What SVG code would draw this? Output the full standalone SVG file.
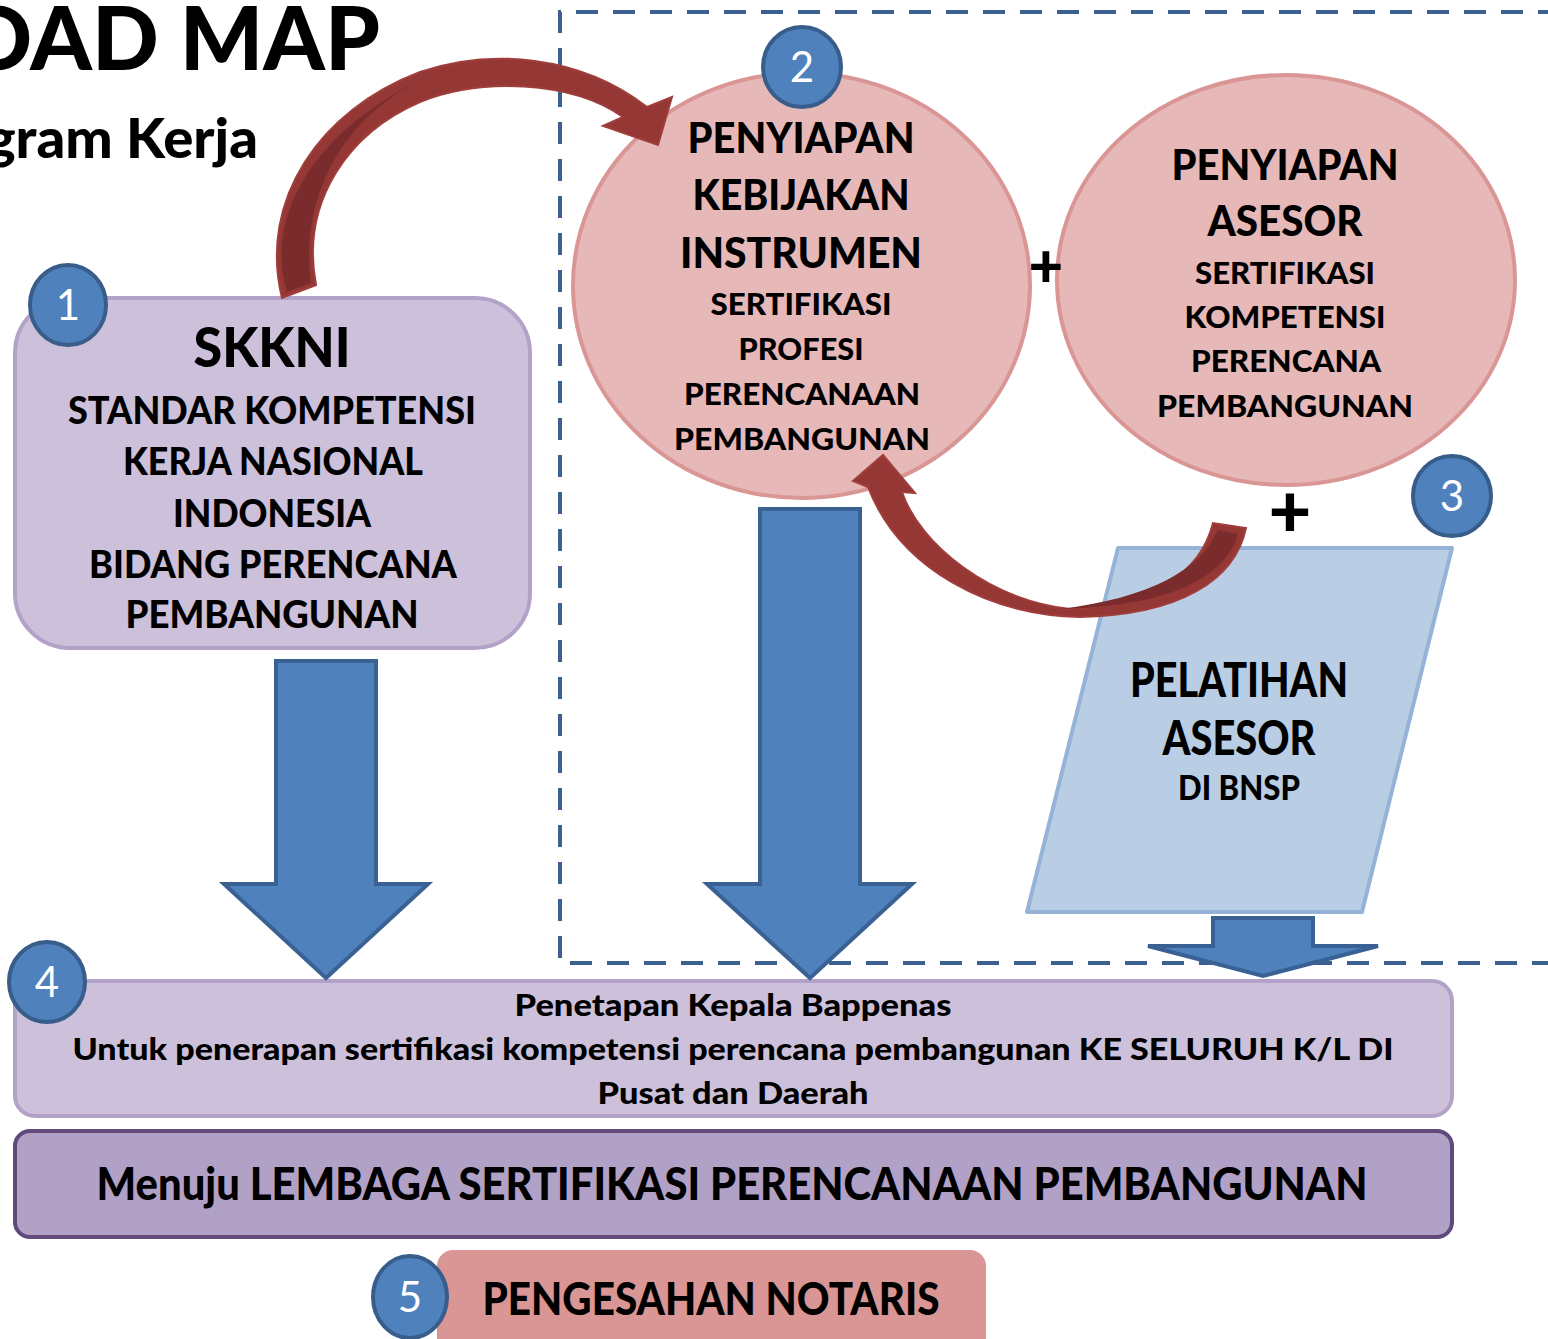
<svg xmlns="http://www.w3.org/2000/svg" width="1548" height="1339" viewBox="0 0 1548 1339">
<defs>
<style>
.t{font-family:Lato,"Open Sans","Liberation Sans",sans-serif;font-weight:900;fill:#000;text-anchor:middle}
.e{text-anchor:end}
.n{font-family:Lato,"Open Sans","Liberation Sans",sans-serif;font-weight:normal;fill:#fff;text-anchor:middle;font-size:42px}
.badge{fill:#4F81BD;stroke:#385D8A;stroke-width:4}
.blue{fill:#4F81BD;stroke:#3A6194;stroke-width:4;stroke-linejoin:miter}
.pink{fill:#E6B9B8;stroke:#D99694;stroke-width:4}
.lilac{fill:#CCC0DA;stroke:#B3A2C7;stroke-width:4}
.red{fill:#953735;stroke:#A03E3C;stroke-width:2}
.redDark{fill:#7A2B2B}
</style>
</defs>
<rect width="1548" height="1339" fill="#fff"/>

<g id="title">
<text class="t e" x="380" y="70" font-size="88" textLength="475" lengthAdjust="spacingAndGlyphs">ROAD MAP</text>
<text class="t e" x="258" y="158" font-size="56" textLength="360" lengthAdjust="spacingAndGlyphs">Program Kerja</text>
</g>

<g id="dashed-frame">
<path d="M1560,12 H560 V963 H1560" fill="none" stroke="#3C6090" stroke-width="4" stroke-dasharray="22 15"/>
</g>

<g id="node-skkni">
<rect class="lilac" x="15" y="298" width="515" height="350" rx="55"/>
<text class="t" x="272" y="367" font-size="56" textLength="157" lengthAdjust="spacingAndGlyphs">SKKNI</text>
<text class="t" x="272" y="424" font-size="38" textLength="408" lengthAdjust="spacingAndGlyphs">STANDAR KOMPETENSI</text>
<text class="t" x="273" y="475" font-size="38" textLength="300" lengthAdjust="spacingAndGlyphs">KERJA NASIONAL</text>
<text class="t" x="272" y="527" font-size="38" textLength="198" lengthAdjust="spacingAndGlyphs">INDONESIA</text>
<text class="t" x="273" y="578" font-size="38" textLength="368" lengthAdjust="spacingAndGlyphs">BIDANG PERENCANA</text>
<text class="t" x="272" y="628" font-size="38" textLength="293" lengthAdjust="spacingAndGlyphs">PEMBANGUNAN</text>
</g>

<g id="node-kebijakan">
<ellipse class="pink" cx="801.5" cy="285.5" rx="228.5" ry="212.5"/>
<text class="t" x="801" y="153" font-size="42" textLength="227" lengthAdjust="spacingAndGlyphs">PENYIAPAN</text>
<text class="t" x="801" y="210" font-size="42" textLength="217" lengthAdjust="spacingAndGlyphs">KEBIJAKAN</text>
<text class="t" x="801" y="268" font-size="42" textLength="242" lengthAdjust="spacingAndGlyphs">INSTRUMEN</text>
<text class="t" x="801" y="315" font-size="31" textLength="181" lengthAdjust="spacingAndGlyphs">SERTIFIKASI</text>
<text class="t" x="801" y="360" font-size="31" textLength="125" lengthAdjust="spacingAndGlyphs">PROFESI</text>
<text class="t" x="802" y="405" font-size="31" textLength="236" lengthAdjust="spacingAndGlyphs">PERENCANAAN</text>
<text class="t" x="802" y="450" font-size="31" textLength="256" lengthAdjust="spacingAndGlyphs">PEMBANGUNAN</text>
</g>

<g id="node-asesor">
<ellipse class="pink" cx="1286" cy="280" rx="229" ry="205"/>
<text class="t" x="1285" y="180" font-size="42" textLength="227" lengthAdjust="spacingAndGlyphs">PENYIAPAN</text>
<text class="t" x="1285" y="236" font-size="42" textLength="155" lengthAdjust="spacingAndGlyphs">ASESOR</text>
<text class="t" x="1285" y="284" font-size="31" textLength="180" lengthAdjust="spacingAndGlyphs">SERTIFIKASI</text>
<text class="t" x="1285" y="328" font-size="31" textLength="201" lengthAdjust="spacingAndGlyphs">KOMPETENSI</text>
<text class="t" x="1286" y="372" font-size="31" textLength="190" lengthAdjust="spacingAndGlyphs">PERENCANA</text>
<text class="t" x="1285" y="417" font-size="31" textLength="256" lengthAdjust="spacingAndGlyphs">PEMBANGUNAN</text>
</g>

<g id="plus-signs">
<text class="t" x="1046" y="287" font-size="60">+</text>
<text class="t" x="1290" y="537" font-size="74">+</text>
</g>

<g id="node-pelatihan">
<polygon points="1118,548 1452,548 1362,912 1027,912" fill="#B9CDE5" stroke="#95B3D7" stroke-width="4" stroke-linejoin="round"/>
<text class="t" x="1239" y="697" font-size="47" textLength="218" lengthAdjust="spacingAndGlyphs">PELATIHAN</text>
<text class="t" x="1239" y="755" font-size="47" textLength="153" lengthAdjust="spacingAndGlyphs">ASESOR</text>
<text class="t" x="1239" y="800" font-size="34" textLength="122" lengthAdjust="spacingAndGlyphs">DI BNSP</text>
</g>

<g id="node-penetapan">
<rect class="lilac" x="15" y="981" width="1437" height="135" rx="20"/>
<text class="t" x="733" y="1016" font-size="31" textLength="437" lengthAdjust="spacingAndGlyphs">Penetapan Kepala Bappenas</text>
<text class="t" x="733" y="1060" font-size="31" textLength="1321" lengthAdjust="spacingAndGlyphs">Untuk penerapan sertifikasi kompetensi perencana pembangunan KE SELURUH K/L DI</text>
<text class="t" x="733" y="1104" font-size="31" textLength="271" lengthAdjust="spacingAndGlyphs">Pusat dan Daerah</text>
</g>

<g id="node-menuju">
<rect x="15" y="1131" width="1437" height="106" rx="15" fill="#B2A1C7" stroke="#604A7B" stroke-width="4"/>
<text class="t" x="732" y="1200" font-size="45" textLength="1271" lengthAdjust="spacingAndGlyphs">Menuju LEMBAGA SERTIFIKASI PERENCANAAN PEMBANGUNAN</text>
</g>

<g id="node-notaris">
<rect x="437" y="1250" width="549" height="110" rx="16" fill="#D99694"/>
<text class="t" x="711" y="1315" font-size="46" textLength="457" lengthAdjust="spacingAndGlyphs">PENGESAHAN NOTARIS</text>
</g>

<g id="connectors">
<path class="blue" d="M276,661 H376 V884 H428 L326,978 L224,884 H276 Z"/>
<path class="blue" d="M760,509 H860 V884 H912 L810,978 L707,884 H760 Z"/>
<path class="blue" d="M1213,918 H1313 V946 H1378 L1263,976 L1148,946 H1213 Z"/>
<path class="red" d="M282,298 C258,200 320,110 420,72 C490,48 580,55 647,107 L672,97 L658,145 L603,126 L623,117 C570,80 480,78 420,102 C350,132 300,200 316,285 Z"/>
<path class="redDark" d="M287,292 C265,220 310,130 430,76 C340,115 300,200 311,283 Z"/>
<path class="red" d="M1246,528 C1235,580 1180,615 1080,617 C990,615 900,570 868,487 L853,481 L883,455 L915,493 L902,492 C920,545 990,600 1070,609 C1150,605 1200,575 1213,523 Z"/>
<path class="redDark" d="M1218,530 L1238,534 C1225,578 1170,606 1060,609 C1150,598 1200,570 1218,530 Z"/>
</g>

<g id="badges">
<g id="badge-1"><ellipse class="badge" cx="68" cy="305" rx="38" ry="40"/><text class="n" x="68" y="320">1</text></g>
<g id="badge-2"><ellipse class="badge" cx="802" cy="67" rx="39" ry="40"/><text class="n" x="802" y="82">2</text></g>
<g id="badge-3"><ellipse class="badge" cx="1452" cy="496" rx="39" ry="40"/><text class="n" x="1452" y="511">3</text></g>
<g id="badge-4"><ellipse class="badge" cx="47" cy="982" rx="38" ry="40"/><text class="n" x="47" y="997">4</text></g>
<g id="badge-5"><ellipse class="badge" cx="410" cy="1297" rx="37" ry="41"/><text class="n" x="410" y="1312">5</text></g>
</g>
</svg>
